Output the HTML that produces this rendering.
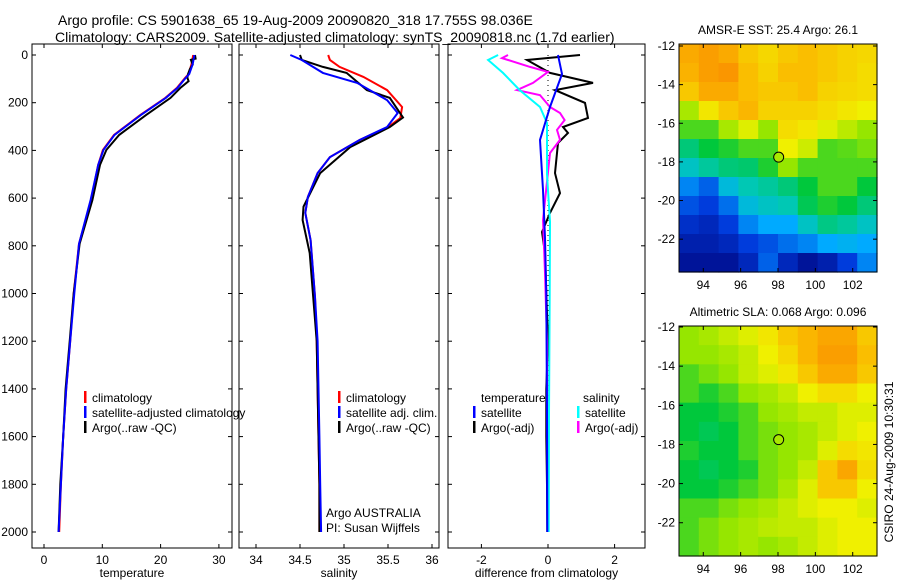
<!DOCTYPE html>
<html><head><meta charset="utf-8">
<style>
html,body{margin:0;padding:0;background:#fff;}
svg{display:block;font-family:"Liberation Sans",sans-serif;}
text{fill:#000;}
</style></head>
<body>
<svg id="fig" width="900" height="580" viewBox="0 0 900 580" xmlns="http://www.w3.org/2000/svg">
<text x="58" y="25" font-size="14">Argo profile: CS 5901638_65 19-Aug-2009 20090820_318 17.755S 98.036E</text>
<text x="55" y="42" font-size="14">Climatology: CARS2009. Satellite-adjusted climatology: synTS_20090818.nc (1.7d earlier)</text>
<g id="layer"></g>
</svg>
<script>
// ---- data ----
const tClimD=[0,38,80,96,138,180,252,335,398,461,608,792,1000,1200,1400,1600,1800,2000];
const tClim=[25.6,25.3,24.8,24.2,22.8,20.8,16.5,12,10.1,9.3,8.1,6.0,5.1,4.5,3.8,3.3,2.9,2.6];
const tSatC=[25.8,25.5,24.9,24.3,22.9,20.9,16.6,12.1,10.2,9.3,8.0,6.0,5.2,4.5,3.8,3.3,2.9,2.5];
const tArgoD=[0,15,20,40,60,80,96,110,138,180,252,335,398,461,608,792,1000,1200,1400,1600,1800,2000];
const tArgo=[25.9,26,25.2,25.5,25,24.7,24.6,24.8,23.4,21.7,17.5,12.9,10.7,9.6,8.3,6.1,5.1,4.4,3.7,3.3,2.8,2.5];
const sClimD=[0,21,50,92,147,218,264,302,356,428,495,595,662,776,1015,1200,1400,1600,1800,2000];
const sClim=[34.82,34.84,34.95,35.22,35.49,35.66,35.64,35.5,35.18,34.84,34.7,34.59,34.56,34.62,34.67,34.69,34.7,34.71,34.72,34.72];
const sSatD=[0,21,75,117,189,243,302,356,428,495,595,662,776,1015,1200,1400,1600,1800,2000];
const sSatC=[34.39,34.52,34.76,35.15,35.49,35.61,35.49,35.18,34.84,34.7,34.59,34.56,34.62,34.67,34.7,34.71,34.72,34.73,34.74];
const sArgoD=[0,21,50,75,147,180,262,302,386,495,636,692,830,1015,1200,1400,1600,1800,2000];
const sArgo=[34.5,34.52,34.76,35.03,35.26,35.52,35.67,35.52,35.07,34.73,34.54,34.53,34.61,34.65,34.69,34.7,34.71,34.72,34.72];
const dTArgoD=[0,21,75,117,147,201,264,302,327,369,495,579,662,742,830,1000,1200,1400,1600,1800,2000];
const dTArgo=[0.96,-0.63,0.06,1.35,0.21,1.11,1.2,0.45,0.6,0.3,0.21,0.36,0.06,-0.18,-0.09,-0.05,0,-0.05,-0.05,-0.03,-0.02];
const dTSatD=[0,80,218,356,566,766,1000,1500,2000];
const dTSat=[0.3,0.42,0.06,-0.24,-0.15,-0.09,-0.05,-0.03,-0.02];
const dSSatD=[0,21,75,147,218,285,500,700,1000,1500,2000];
const dSSat=[-1.5,-1.8,-1.35,-0.85,-0.24,-0.03,-0.03,0.06,0.05,0.03,0.02];
const dSArgoD=[0,13,50,71,117,147,168,218,243,273,314,356,411,692,914,1200,2000];
const dSArgo=[-1.2,-1.38,-0.54,0,-0.45,-0.93,-0.24,0.06,0.36,0.5,0.27,0.36,0.06,-0.15,-0.09,-0.03,0];
const depthTicks=[0,200,400,600,800,1000,1200,1400,1600,1800,2000];
const tTicks=[0,10,20,30];
const sTicks=["34","34.5","35","35.5","36"];
const dTicks=[-2,0,2];
const sstLat=[-12,-14,-16,-18,-20,-22];
const lonTicks=[94,96,98,100,102];
const sstGrid=[
[.85,.88,.85,.78,.75,.78,.8,.78,.76,.75],
[.83,.88,.9,.8,.76,.8,.8,.78,.76,.74],
[.78,.85,.85,.8,.78,.78,.8,.76,.75,.74],
[.62,.72,.78,.82,.76,.76,.76,.74,.72,.7],
[.55,.55,.62,.68,.6,.74,.72,.68,.64,.6],
[.45,.5,.52,.55,.55,.7,.66,.55,.56,.58],
[.38,.42,.45,.46,.52,.6,.55,.55,.55,.55],
[.25,.2,.35,.4,.42,.45,.5,.55,.55,.5],
[.18,.15,.22,.35,.38,.4,.48,.52,.5,.45],
[.12,.1,.15,.25,.3,.3,.38,.44,.42,.38],
[.08,.08,.1,.15,.18,.22,.25,.3,.32,.3],
[.05,.05,.05,.1,.2,.1,.05,.08,.15,.25]];
const slaGrid=[
[.6,.62,.65,.68,.72,.78,.82,.86,.86,.78],
[.6,.6,.62,.65,.7,.75,.82,.88,.88,.8],
[.55,.58,.6,.65,.68,.72,.78,.85,.85,.78],
[.55,.52,.55,.6,.62,.65,.7,.74,.74,.7],
[.5,.5,.52,.55,.6,.62,.65,.65,.68,.68],
[.5,.48,.5,.55,.58,.6,.62,.65,.68,.7],
[.52,.5,.5,.55,.58,.6,.62,.68,.74,.72],
[.5,.48,.5,.52,.58,.6,.65,.78,.86,.74],
[.5,.5,.52,.55,.58,.62,.68,.78,.78,.7],
[.55,.55,.58,.6,.62,.65,.68,.7,.7,.68],
[.55,.58,.6,.62,.64,.65,.65,.68,.7,.7],
[.55,.58,.6,.62,.6,.62,.65,.68,.7,.7]];
const argoLon=98.036, argoLat=-17.755;

// ---- helpers ----
const NS="http://www.w3.org/2000/svg";
const L=document.getElementById('layer');
function mk(tag,attrs,parent){const e=document.createElementNS(NS,tag);for(const k in attrs)e.setAttribute(k,attrs[k]);(parent||L).appendChild(e);return e;}
function txt(x,y,s,size,anchor){const t=mk('text',{x:x,y:y,'font-size':size||12,'text-anchor':anchor||'start'});t.textContent=s;return t;}
const yD=d=>55+d*0.2385;
const pTop=44, pBot=548;
function panel(x0,x1,name,xs,ticks,title){
  const r=mk('rect',{x:x0,y:pTop,width:x1-x0,height:pBot-pTop,fill:'none',stroke:'#000','stroke-width':1});
  
  
  depthTicks.forEach(d=>{mk('line',{x1:x0,x2:x0+4,y1:yD(d),y2:yD(d),stroke:'#000'});mk('line',{x1:x1,x2:x1-4,y1:yD(d),y2:yD(d),stroke:'#000'});});
  ticks.forEach(t=>{const x=xs(+t);mk('line',{x1:x,x2:x,y1:pBot,y2:pBot-4,stroke:'#000'});mk('line',{x1:x,x2:x,y1:pTop,y2:pTop+4,stroke:'#000'});
    const tl=txt(x,564,String(t),12,'middle');});
  const at=txt((x0+x1)/2,577,title,12,'middle');
  
  
}
function line(xs,vals,depths,color,w,name){
  const pts=vals.map((v,i)=>xs(v).toFixed(1)+','+yD(depths[i]).toFixed(1)).join(' ');
  const p=mk('polyline',{points:pts,fill:'none',stroke:color,'stroke-width':w||2});
  
  
}
function legItem(x,y,color,label,name){
  mk('rect',{x:x,y:y-11,width:2.5,height:12,fill:color});
  const t=txt(x+8,y,label,12);
  
  
}
depthTicks.forEach(d=>{const t=txt(28,yD(d)+4,String(d),12,'end');});

// ---- temperature panel ----
const xT=v=>44+v*5.83;
panel(32,232,'temperature-panel',xT,tTicks,'temperature');
line(xT,tClim,tClimD,'#f00',2,'temperature-climatology-line');
line(xT,tArgo,tArgoD,'#000',2,'temperature-argo-line');
line(xT,tSatC,tClimD,'#00f',2,'temperature-satellite-line');
legItem(84,402,'#f00','climatology','legend-climatology');
legItem(84,417,'#00f','satellite-adjusted climatology','legend-satellite-adjusted');
legItem(84,432,'#000','Argo(..raw -QC)','legend-argo');

// ---- salinity panel ----
const xS=v=>256+(v-34)*88;
panel(239,439,'salinity-panel',xS,sTicks,'salinity');
line(xS,sClim,sClimD,'#f00',2,'salinity-climatology-line');
line(xS,sArgo,sArgoD,'#000',2,'salinity-argo-line');
line(xS,sSatC,sSatD,'#00f',2,'salinity-satellite-line');
legItem(338,402,'#f00','climatology','legend-sal-climatology');
legItem(338,417,'#00f','satellite adj. clim.','legend-sal-satellite');
legItem(338,432,'#000','Argo(..raw -QC)','legend-sal-argo');
let t1=txt(326,517,'Argo AUSTRALIA',12);
let t2=txt(326,532,'PI: Susan Wijffels',12);

// ---- difference panel ----
const xDf=v=>548+v*33.3;
panel(448,645,'difference-panel',xDf,dTicks,'difference from climatology');
mk('line',{x1:xDf(0),x2:xDf(0),y1:yD(0),y2:yD(2000),stroke:'#000','stroke-dasharray':'1,4'});
line(xDf,dTArgo,dTArgoD,'#000',2,'diff-temperature-argo-line');
line(xDf,dSArgo,dSArgoD,'#f0f',2,'diff-salinity-argo-line');
line(xDf,dSSat,dSSatD,'#0ff',2,'diff-salinity-satellite-line');
line(xDf,dTSat,dTSatD,'#00f',2,'diff-temperature-satellite-line');
let t3=txt(481,402,'temperature',12);
let t4=txt(583,402,'salinity',12);
legItem(473,417,'#00f','satellite','legend-diff-temp-satellite');
legItem(473,432,'#000','Argo(-adj)','legend-diff-temp-argo');
legItem(577,417,'#0ff','satellite','legend-diff-sal-satellite');
legItem(577,432,'#f0f','Argo(-adj)','legend-diff-sal-argo');

// ---- maps ----
const cmapStops=[[0,0,0,120],[0.15,0,60,220],[0.3,0,170,255],[0.4,0,200,180],[0.5,0,200,60],[0.6,150,230,0],[0.7,240,240,0],[0.8,250,190,0],[0.9,250,150,0],[1,220,60,0]];
function cmap(v){
  v=Math.max(0,Math.min(1,v));
  for(let i=1;i<cmapStops.length;i++){
    const a=cmapStops[i-1],b=cmapStops[i];
    if(v<=b[0]){const f=(v-a[0])/(b[0]-a[0]);
      return 'rgb('+Math.round(a[1]+f*(b[1]-a[1]))+','+Math.round(a[2]+f*(b[2]-a[2]))+','+Math.round(a[3]+f*(b[3]-a[3]))+')';}
  }
  return 'rgb(220,60,0)';
}
function map(x0,y0,w,h,lat12y,grid,name,title){
  const lonX=lon=>x0+(lon-92.7)*(w/10.6);
  const latY=lat=>lat12y+(-12-lat)*((y0+h-lat12y)/11.7);
  const rows=grid.length, cols=grid[0].length;
  const cw=w/cols, ch=h/rows;
  const g=mk('g',{});
  
  
  grid.forEach((row,i)=>row.forEach((v,j)=>{mk('rect',{x:x0+j*cw,y:y0+i*ch,width:cw+0.6,height:ch+0.6,fill:cmap(v)},g);}));
  mk('rect',{x:x0,y:y0,width:w,height:h,fill:'none',stroke:'#000'});
  sstLat.forEach(l=>{const y=latY(l);mk('line',{x1:x0,x2:x0+4,y1:y,y2:y,stroke:'#000'});mk('line',{x1:x0+w,x2:x0+w-4,y1:y,y2:y,stroke:'#000'});
    const tl=txt(x0-4,y+4,String(l),12,'end');});
  lonTicks.forEach(l=>{const x=lonX(l);mk('line',{x1:x,x2:x,y1:y0+h,y2:y0+h-4,stroke:'#000'});mk('line',{x1:x,x2:x,y1:y0,y2:y0+4,stroke:'#000'});
    const tl=txt(x,y0+h+17,String(l),12,'middle');});
  const c=mk('circle',{cx:lonX(argoLon),cy:latY(argoLat),r:5,fill:cmap(.62),stroke:'#000'});
  
  
  const tt=txt(x0+w/2,y0-10,title,12,'middle');
  
  
}
map(679,44,198,228,46,sstGrid,'sst-map','AMSR-E SST: 25.4 Argo: 26.1');
map(679,326,198,230,327,slaGrid,'sla-map','Altimetric SLA: 0.068 Argo: 0.096');
const cs=txt(0,0,'CSIRO 24-Aug-2009 10:30:31',12,'middle');
cs.setAttribute('transform','translate(893,462) rotate(-90)');


</script>
</body></html>
